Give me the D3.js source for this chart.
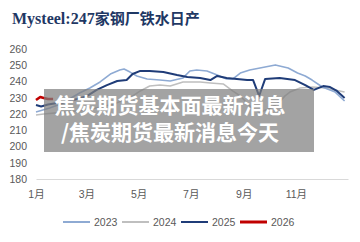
<!DOCTYPE html>
<html>
<head>
<meta charset="utf-8">
<script src="https://cdn.jsdelivr.net/npm/d3@7"></script>
<style>
body{margin:0;background:#fff;}
</style>
</head>
<body>
<script>
// day of year / value pairs
var days2023 = [0,16,32,43,51,63,75,87,98,103,110,118,130,145,157,172,180,188,200,212,223,230,239,250,262,280,295,306,315,323,335,350,361];
var vals2023 = [221.2,223.7,226.8,230.5,232.9,236.0,239.7,244.6,247.1,247.7,245.8,243.4,241.5,240.9,240.3,242.2,246.5,247.1,246.5,244.0,241.5,241.5,245.2,247.1,248.3,250.2,248.3,245.2,243.4,240.9,236.6,233.5,228.0];

var days2024 = [0,9,30,60,90,110,122,133,145,157,172,192,204,219,230,239,252,262,274,285,291,297,309,324,338,361];
var vals2024 = [219.4,220.0,221,222.5,226,230,234.2,237.2,237.8,237.2,239.7,239.7,239.1,238.5,234.2,231.1,224,221,223.5,227.4,231,233.5,236.0,236.6,236.0,233.5];

var days2025 = [0,6,14,25,35,48,60,71,83,95,106,113,122,133,149,165,177,192,204,212,223,235,247,254,261,268,285,303,315,325,336,344,352,361];
var vals2025 = [225.5,224.6,225.8,226.8,227.4,229.2,231.1,234.8,237.8,240.3,240.9,244.6,246.5,246.5,245.8,244.0,242.8,242.2,240.9,243.4,242.2,241.5,240.9,240.9,231.1,241.5,242.2,240.9,237.8,234.8,237.2,236.6,234.2,229.8];

var days2026 = [0,5,9,14,20];
var vals2026 = [228.6,230.5,229.8,229.2,229.2];

var years = ["2023","2024","2025","2026"];
var colors = ["#8eaad3","#bfbfbf","#1f3c78","#c00000"];
var widths = [1.6,1.6,2,2.6];

var yTicks = [180,190,200,210,220,230,240,250,260];
var monthDays = [0,59,120,181,243,304];
var monthLabels = ["1月","3月","5月","7月","9月","11月"];

var titleLatin = "Mysteel:247";
var titleCjk = "家钢厂铁水日产";
var overlayLines = ["焦炭期货基本面最新消息","/焦炭期货最新消息今天"];

function pairs(ds, vs){
	var out = [];
	for(var i = 0; i < ds.length; i++){
		out.push([ds[i], vs[i]]);
	}
	return out;
}
var series = [pairs(days2023, vals2023), pairs(days2024, vals2024), pairs(days2025, vals2025), pairs(days2026, vals2026)];

var svg = d3.select("body").append("svg")
	.attr("width", 360)
	.attr("height", 242);

var x = d3.scaleLinear().domain([0,365]).range([36,348]);
var y = d3.scaleLinear().domain([180,260]).range([179,49]);

var font = "'Liberation Sans','Noto Sans CJK SC',sans-serif";

// title
var title = svg.append("text")
	.attr("x", 12)
	.attr("y", 24)
	.attr("fill", "#1f3864")
	.attr("font-weight", "bold");
title.append("tspan").text(titleLatin)
	.attr("font-family", "'Liberation Serif',serif")
	.attr("font-size", "16px");
title.append("tspan").text(titleCjk)
	.attr("font-family", "'Noto Sans CJK SC',sans-serif")
	.attr("font-size", "15px");

// y axis, labels only
var yAxis = svg.append("g")
	.attr("transform", "translate(30,0)")
	.call(d3.axisLeft(y).tickValues(yTicks).tickSize(0).tickPadding(3));
yAxis.select(".domain").remove();
yAxis.selectAll("text")
	.attr("font-family", font)
	.attr("font-size", "10.5px")
	.attr("fill", "#595959");

// x axis
var xAxis = svg.append("g")
	.attr("transform", "translate(0,179)")
	.call(d3.axisBottom(x).tickValues(monthDays)
		.tickFormat(function(d, i){ return monthLabels[i]; })
		.tickSize(0).tickSizeOuter(0).tickPadding(11.5));
xAxis.select(".domain").attr("stroke", "#d9d9d9");
xAxis.selectAll("text")
	.attr("font-family", font)
	.attr("font-size", "10.5px")
	.attr("fill", "#595959");

// lines
var line = d3.line()
	.x(function(d){ return x(d[0]); })
	.y(function(d){ return y(d[1]); });

var order = [1,0,2,3];
for(var k = 0; k < order.length; k++){
	var s = order[k];
	svg.append("path")
		.datum(series[s])
		.attr("d", line)
		.attr("fill", "none")
		.attr("stroke", colors[s])
		.attr("stroke-width", widths[s])
		.attr("stroke-linejoin", "round");
}

// legend
var legend = svg.append("g").attr("transform", "translate(63,222)");
var item = legend.selectAll("g").data(years).enter().append("g")
	.attr("transform", function(d, i){ return "translate(" + (i * 59) + ",0)"; });
item.append("line")
	.attr("x1", 0).attr("x2", 27)
	.attr("y1", 0).attr("y2", 0)
	.attr("stroke", function(d, i){ return colors[i]; })
	.attr("stroke-width", function(d, i){ return i == 3 ? 3 : 2; });
item.append("text")
	.text(function(d){ return d; })
	.attr("x", 31)
	.attr("y", 4)
	.attr("font-family", font)
	.attr("font-size", "10.5px")
	.attr("fill", "#595959");

// grey caption box over the plot
svg.append("rect")
	.attr("x", 44).attr("y", 89)
	.attr("width", 270).attr("height", 63)
	.attr("fill", "#7f7f7f")
	.attr("opacity", 0.72);

svg.selectAll(".cap").data(overlayLines).enter().append("text")
	.attr("class", "cap")
	.text(function(d){ return d; })
	.attr("x", 170)
	.attr("y", function(d, i){ return 113 + i * 27; })
	.attr("text-anchor", "middle")
	.attr("font-family", "'Noto Sans CJK SC',sans-serif")
	.attr("font-weight", "bold")
	.attr("font-size", "21px")
	.attr("fill", "#fff");
</script>
</body>
</html>
